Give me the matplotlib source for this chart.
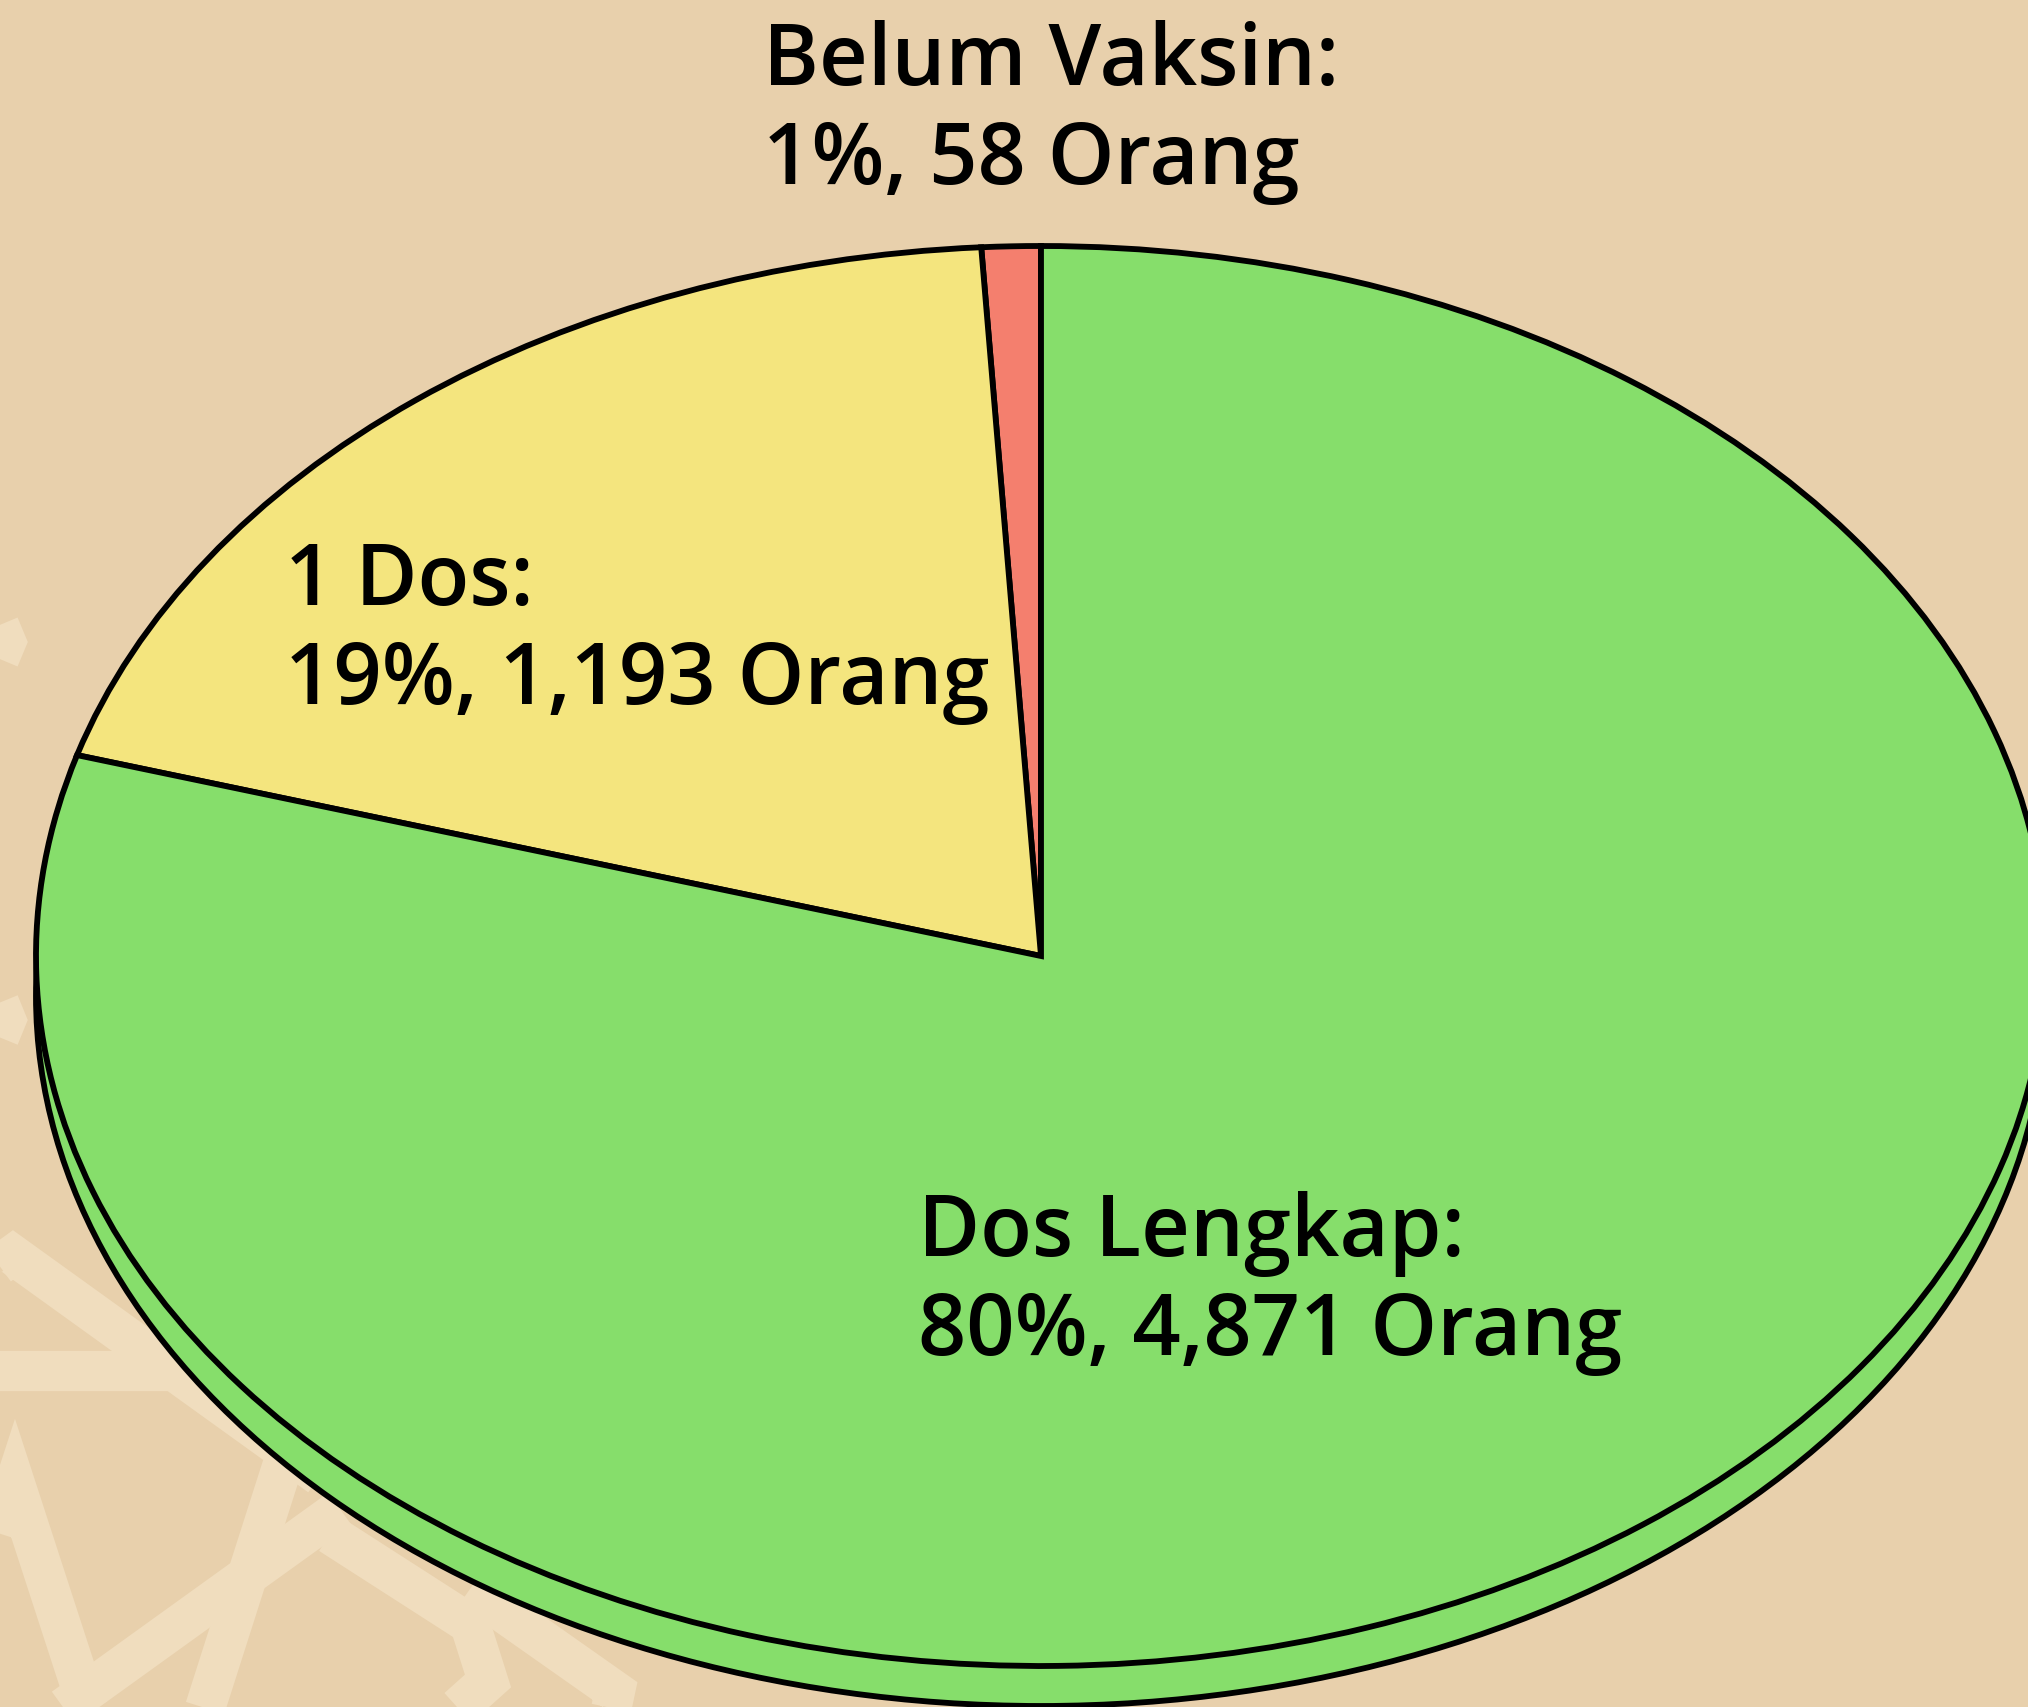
import matplotlib.pyplot as plt
from matplotlib.patches import Ellipse

# data
categories = ['Belum Vaksin', '1 Dos', 'Dos Lengkap']
counts = [58, 1193, 4871]
colors = ['#F47F6E', '#F4E57E', '#86DE6B']

bg = '#E8D0AC'
W, H = 2028, 1708

fig = plt.figure(figsize=(W / 100, H / 100), dpi=100, facecolor=bg)

# background decoration (pixel coords, y from top)
deco = fig.add_axes([0, 0, 1, 1], zorder=0)
deco.set_xlim(0, W)
deco.set_ylim(H, 0)
deco.axis('off')
pattern = [
    [(-20, 1280), (13, 1256), (320, 1477)],
    [(-10, 1372), (250, 1372)],
    [(-20, 1593), (15, 1485), (93, 1725)],
    [(40, 1726), (340, 1510)],
    [(200, 1725), (291, 1440)],
    [(330, 1535), (470, 1625), (488, 1682), (440, 1725)],
    [(470, 1590), (615, 1692), (608, 1725)],
    [(-12, 600), (6, 643), (-12, 686)],
    [(-12, 977), (6, 1021), (-12, 1065)],
]
for pts in pattern:
    xs, ys = zip(*pts)
    deco.plot(xs, ys, color='#F0DDBE', lw=29, solid_joinstyle='miter', solid_capstyle='butt')

# pie axes: data units, 1 unit = rx px horizontally, ry px vertically
cx, cy = 1041, 957
rx, ry = 1005, 710
depth = 40 / ry

ax = fig.add_axes([0, 0, 1, 1], zorder=1)
ax.patch.set_alpha(0)

# side / bottom of the disc
side = Ellipse((0, -depth), 2, 2, facecolor=colors[2], edgecolor='black', lw=4.2)
ax.add_patch(side)

ax.pie(counts, colors=colors, startangle=90, counterclock=True, radius=1,
       wedgeprops=dict(edgecolor='black', linewidth=4.2))
ax.set_aspect('auto')
ax.set_xlim(-cx / rx, (W - cx) / rx)
ax.set_ylim(-(H - cy) / ry, cy / ry)
ax.axis('off')

total = sum(counts)
label_pos = [(763, 85), (285, 605), (918, 1256)]
for name, c, (lx, ly) in zip(categories, counts, label_pos):
    pct = round(c / total * 100)
    lines = [f'{name}:', f'{pct}%, {c:,} Orang']
    for i, t in enumerate(lines):
        fig.text(lx / W, 1 - (ly + i * 99) / H, t, ha='left', va='baseline',
                 fontsize=61, fontweight='semibold', family='Open Sans', color='black',
                 zorder=3)

fig.savefig('out.png', dpi=100, facecolor=bg)
